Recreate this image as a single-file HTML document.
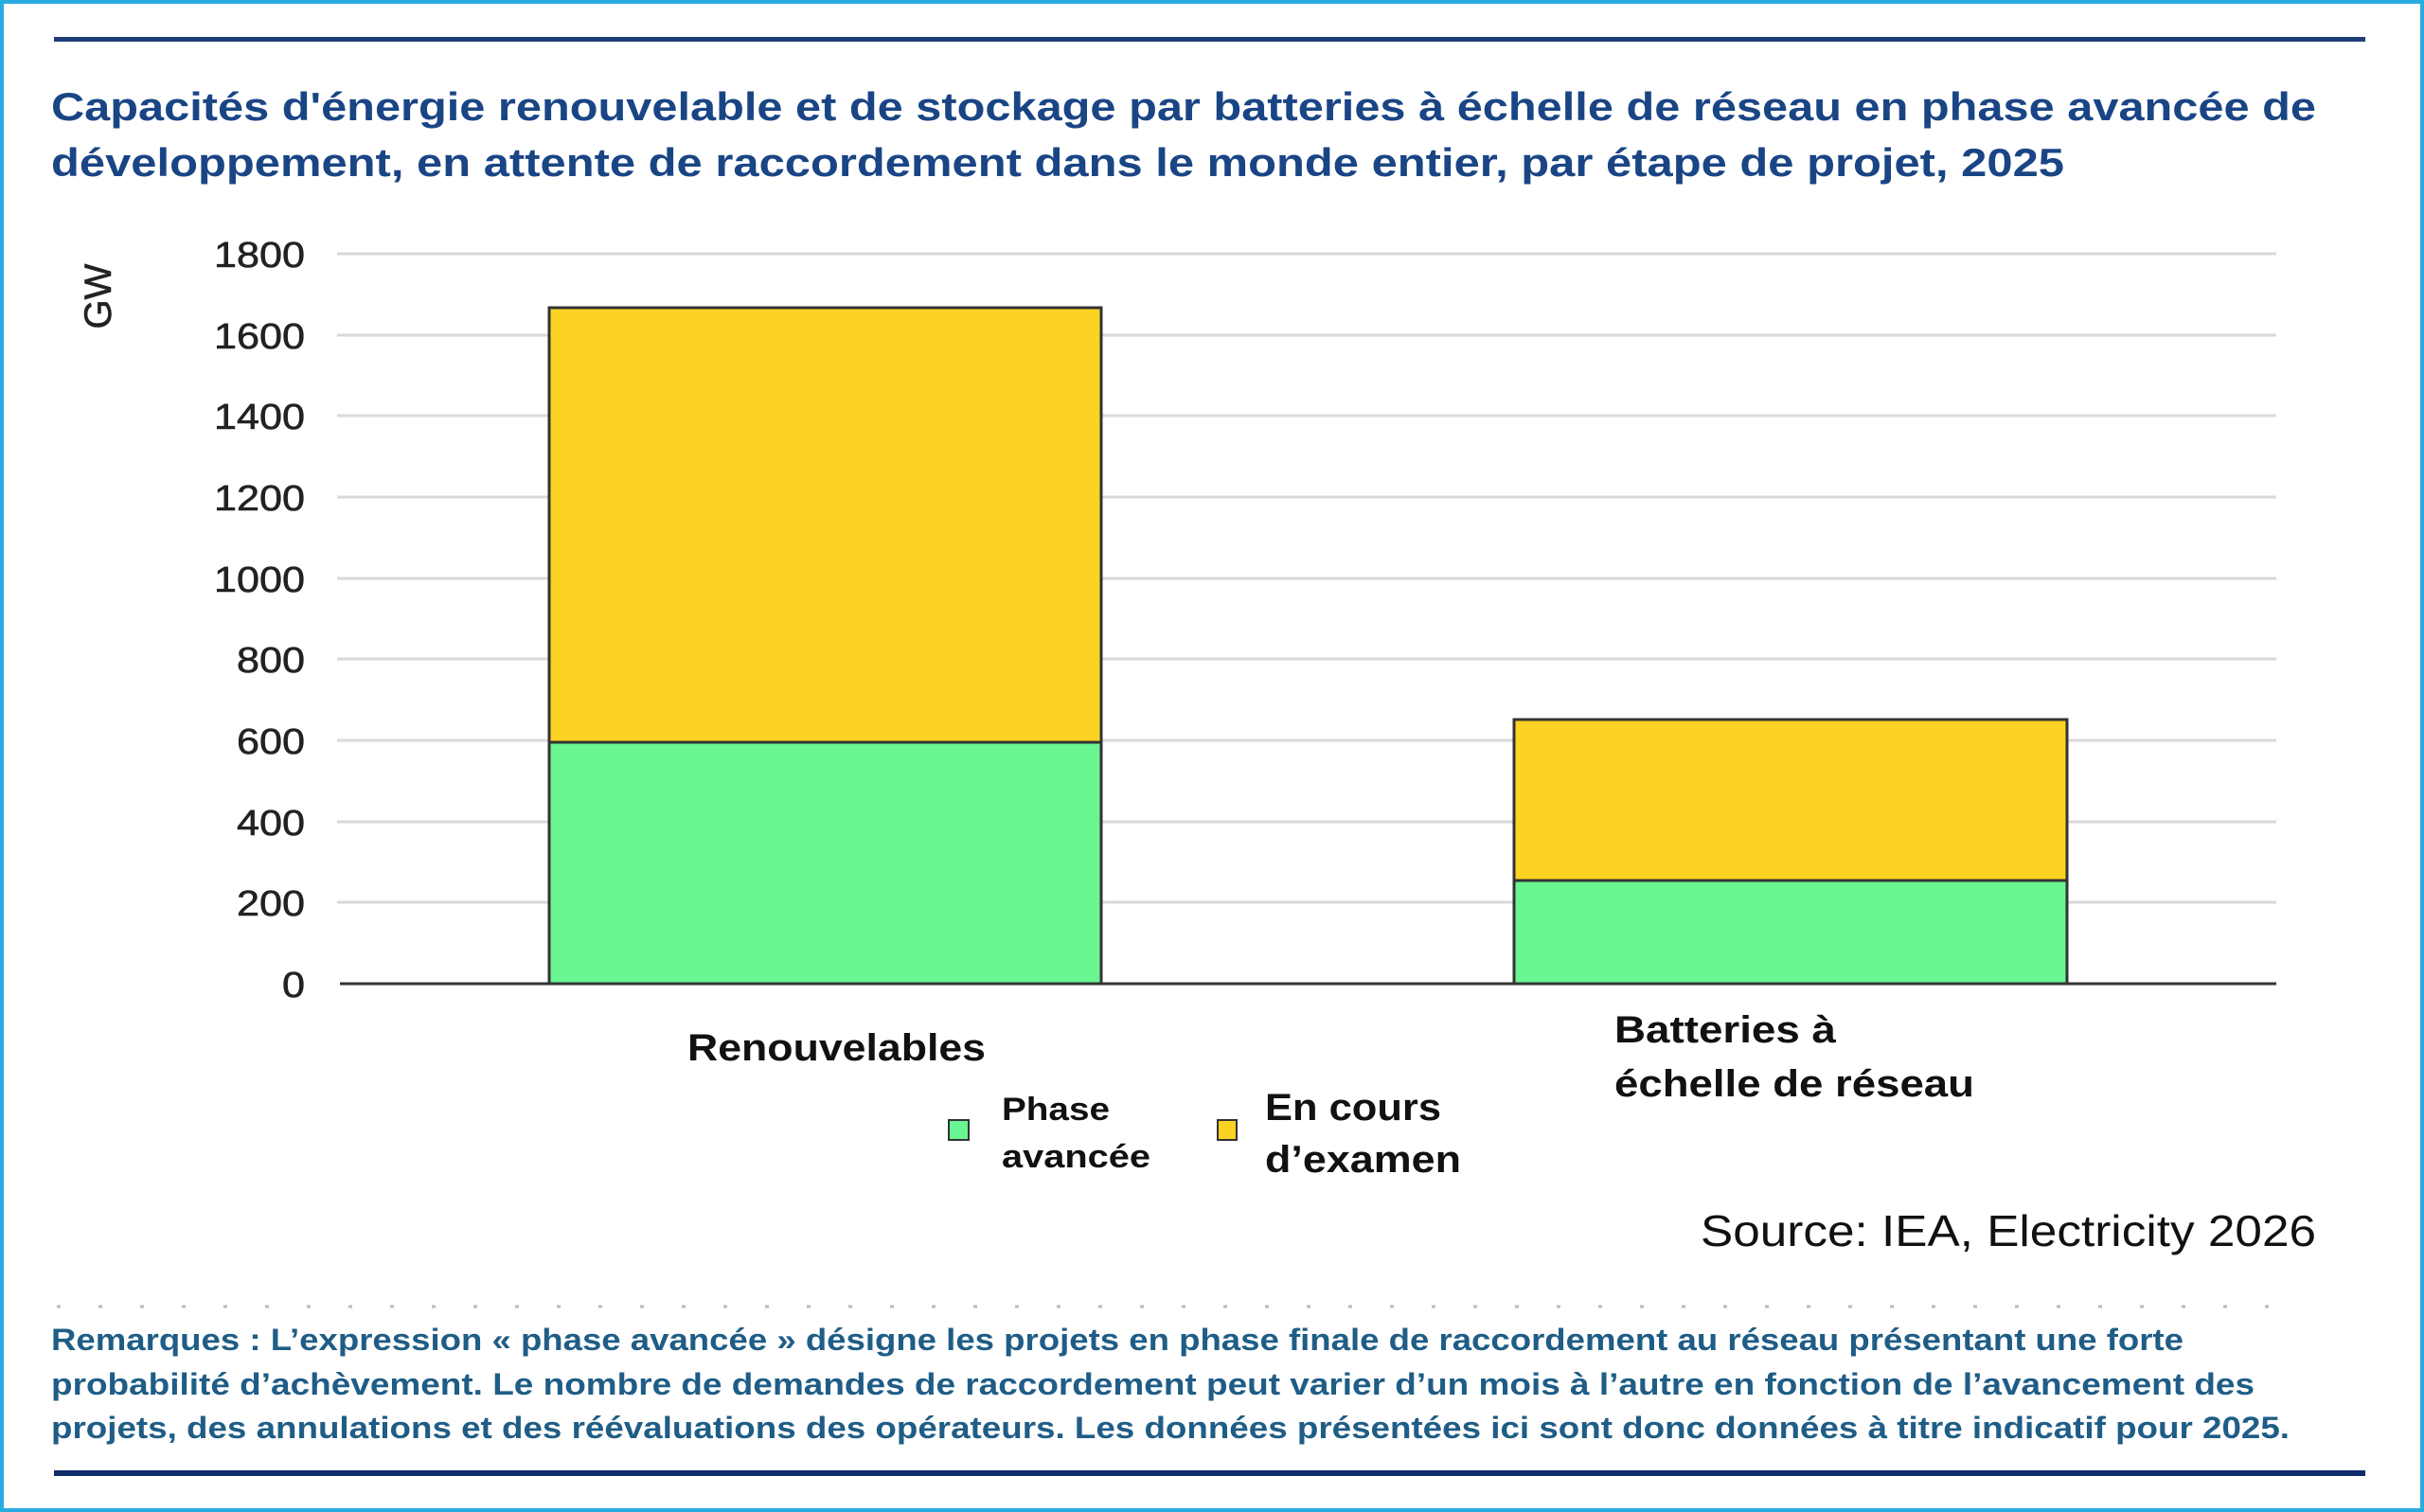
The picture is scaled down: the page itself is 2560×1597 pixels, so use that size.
<!DOCTYPE html>
<html><head><meta charset="utf-8"><style>
html,body{margin:0;padding:0;background:#fff}
svg{display:block}
text{font-family:"Liberation Sans",sans-serif}
</style></head><body>
<svg width="2560" height="1597" viewBox="0 0 2560 1597" xmlns="http://www.w3.org/2000/svg">
<rect x="2" y="2" width="2556" height="1593" fill="#fff" stroke="#2aaae2" stroke-width="4"/>
<rect x="57" y="39" width="2441" height="5" fill="#1f3f7a"/>
<rect x="57" y="1553" width="2441" height="6" fill="#0f2d6b"/>
<g fill="#1a4585" font-weight="bold" font-size="42">
<text x="54" y="127" textLength="2392" lengthAdjust="spacingAndGlyphs">Capacités d'énergie renouvelable et de stockage  par batteries à échelle de réseau en phase avancée de</text>
<text x="54" y="186" textLength="2126" lengthAdjust="spacingAndGlyphs">développement, en attente de raccordement dans le monde entier, par étape de projet, 2025</text>
</g>
<g stroke="#d9d9d9" stroke-width="3">
<line x1="356" y1="268" x2="2404" y2="268"/><line x1="356" y1="354" x2="2404" y2="354"/>
<line x1="356" y1="439" x2="2404" y2="439"/><line x1="356" y1="525" x2="2404" y2="525"/>
<line x1="356" y1="611" x2="2404" y2="611"/><line x1="356" y1="696" x2="2404" y2="696"/>
<line x1="356" y1="782" x2="2404" y2="782"/><line x1="356" y1="868" x2="2404" y2="868"/>
<line x1="356" y1="953" x2="2404" y2="953"/>
</g>
<g font-size="38" fill="#222" stroke="#222" stroke-width="0.6">
<text x="226" y="282" textLength="96" lengthAdjust="spacingAndGlyphs">1800</text>
<text x="226" y="368" textLength="96" lengthAdjust="spacingAndGlyphs">1600</text>
<text x="226" y="453" textLength="96" lengthAdjust="spacingAndGlyphs">1400</text>
<text x="226" y="539" textLength="96" lengthAdjust="spacingAndGlyphs">1200</text>
<text x="226" y="625" textLength="96" lengthAdjust="spacingAndGlyphs">1000</text>
<text x="250" y="710" textLength="72" lengthAdjust="spacingAndGlyphs">800</text>
<text x="250" y="796" textLength="72" lengthAdjust="spacingAndGlyphs">600</text>
<text x="250" y="882" textLength="72" lengthAdjust="spacingAndGlyphs">400</text>
<text x="250" y="967" textLength="72" lengthAdjust="spacingAndGlyphs">200</text>
<text x="298" y="1053" textLength="24" lengthAdjust="spacingAndGlyphs">0</text>
</g>
<text transform="translate(117,313) rotate(-90)" font-size="40" fill="#222" stroke="#222" stroke-width="0.6" text-anchor="middle">GW</text>
<g stroke="#333" stroke-width="3">
<rect x="580" y="325" width="583" height="459" fill="#fcd322"/>
<rect x="580" y="784" width="583" height="255" fill="#69f592"/>
<rect x="1599" y="760" width="584" height="170" fill="#fcd322"/>
<rect x="1599" y="930" width="584" height="109" fill="#69f592"/>
</g>
<line x1="359" y1="1039" x2="2404" y2="1039" stroke="#333" stroke-width="3"/>
<g font-weight="bold" fill="#111" font-size="40">
<text x="726" y="1120" textLength="315" lengthAdjust="spacingAndGlyphs">Renouvelables</text>
<text x="1705" y="1101" textLength="234" lengthAdjust="spacingAndGlyphs">Batteries à</text>
<text x="1705" y="1158" textLength="380" lengthAdjust="spacingAndGlyphs">échelle de réseau</text>
</g>
<rect x="1002" y="1183" width="21" height="21" fill="#69f592" stroke="#333" stroke-width="2"/>
<rect x="1286" y="1183" width="20" height="21" fill="#fcd322" stroke="#333" stroke-width="2"/>
<g font-weight="bold" fill="#111">
<text x="1058" y="1183" font-size="34" textLength="114" lengthAdjust="spacingAndGlyphs">Phase</text>
<text x="1058" y="1233" font-size="34" textLength="157" lengthAdjust="spacingAndGlyphs">avancée</text>
<text x="1336" y="1183" font-size="40" textLength="186" lengthAdjust="spacingAndGlyphs">En cours</text>
<text x="1336" y="1238" font-size="40" textLength="207" lengthAdjust="spacingAndGlyphs">d’examen</text>
</g>
<text x="1796" y="1316" font-size="46" fill="#111" textLength="650" lengthAdjust="spacingAndGlyphs">Source: IEA, Electricity 2026</text>
<line x1="60" y1="1380" x2="2430" y2="1380" stroke="#b0bcc8" stroke-width="3" stroke-dasharray="4 40"/>
<g fill="#1f5d86" font-weight="bold" font-size="32">
<text x="54" y="1426" textLength="2252" lengthAdjust="spacingAndGlyphs">Remarques : L’expression « phase avancée » désigne les projets en phase finale de raccordement au réseau présentant une forte</text>
<text x="54" y="1473" textLength="2327" lengthAdjust="spacingAndGlyphs">probabilité d’achèvement. Le nombre de demandes de raccordement peut varier d’un mois à l’autre en fonction de l’avancement des</text>
<text x="54" y="1519" textLength="2364" lengthAdjust="spacingAndGlyphs">projets, des annulations et des réévaluations des opérateurs. Les données présentées ici sont donc données à titre indicatif pour 2025.</text>
</g>
</svg>
</body></html>
